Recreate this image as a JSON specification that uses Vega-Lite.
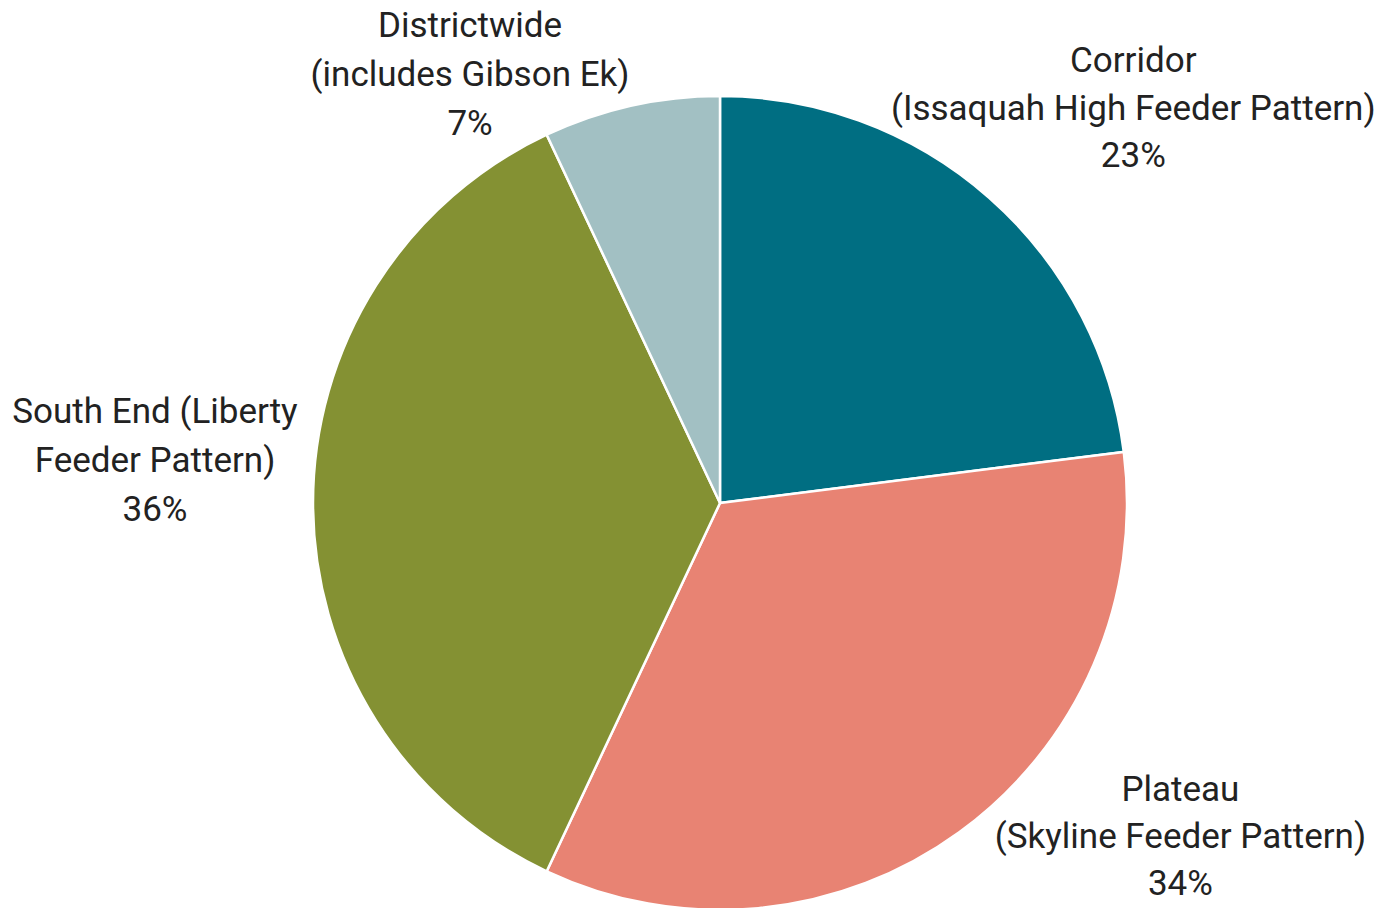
{
  "$schema": "https://vega.github.io/schema/vega-lite/v6.json",
  "autosize": "none",
  "width": 814,
  "height": 814,
  "padding": {"left": 313, "top": 96, "right": 256, "bottom": 0},
  "background": "white",
  "config": {"view": {"stroke": null}, "font": "Roboto"},
  "data": {
    "values": [
      {"region": "Corridor", "label": "Corridor\n(Issaquah High Feeder Pattern)\n23%", "value": 23},
      {"region": "Plateau", "label": "Plateau\n(Skyline Feeder Pattern)\n34%", "value": 34},
      {"region": "South End", "label": "South End (Liberty\nFeeder Pattern)\n36%", "value": 36},
      {"region": "Districtwide", "label": "Districtwide\n(includes Gibson Ek)\n7%", "value": 7}
    ]
  },
  "transform": [{"window": [{"op": "row_number", "as": "idx"}]}],
  "encoding": {
    "theta": {"field": "value", "type": "quantitative", "stack": true},
    "order": {"field": "idx", "type": "quantitative"}
  },
  "layer": [
    {
      "mark": {"type": "arc", "outerRadius": 407, "stroke": "white", "strokeWidth": 2.5},
      "encoding": {
        "color": {
          "field": "region",
          "type": "nominal",
          "scale": {
            "domain": ["Corridor", "Plateau", "South End", "Districtwide"],
            "range": ["#006E82", "#E88373", "#849133", "#A2C0C3"]
          },
          "legend": null
        }
      }
    },
    {
      "mark": {"type": "text", "radius": 569, "dx": 37, "dy": -15, "fontSize": 35, "lineHeight": 47.5, "lineBreak": "\n", "align": "center", "baseline": "middle", "color": "#222222"},
      "encoding": {"text": {"condition": {"test": "datum.region === 'Corridor'", "field": "label"}, "value": ""}}
    },
    {
      "mark": {"type": "text", "radius": 540, "dx": 143, "dy": -150, "fontSize": 35, "lineHeight": 47, "lineBreak": "\n", "align": "center", "baseline": "middle", "color": "#222222"},
      "encoding": {"text": {"condition": {"test": "datum.region === 'Plateau'", "field": "label"}, "value": ""}}
    },
    {
      "mark": {"type": "text", "radius": 565, "dx": 0, "dy": -91, "fontSize": 35, "lineHeight": 49, "lineBreak": "\n", "align": "center", "baseline": "middle", "color": "#222222"},
      "encoding": {"text": {"condition": {"test": "datum.region === 'South End'", "field": "label"}, "value": ""}}
    },
    {
      "mark": {"type": "text", "radius": 472, "dx": -147, "dy": -16, "fontSize": 35, "lineHeight": 49, "lineBreak": "\n", "align": "center", "baseline": "middle", "color": "#222222"},
      "encoding": {"text": {"condition": {"test": "datum.region === 'Districtwide'", "field": "label"}, "value": ""}}
    }
  ]
}
